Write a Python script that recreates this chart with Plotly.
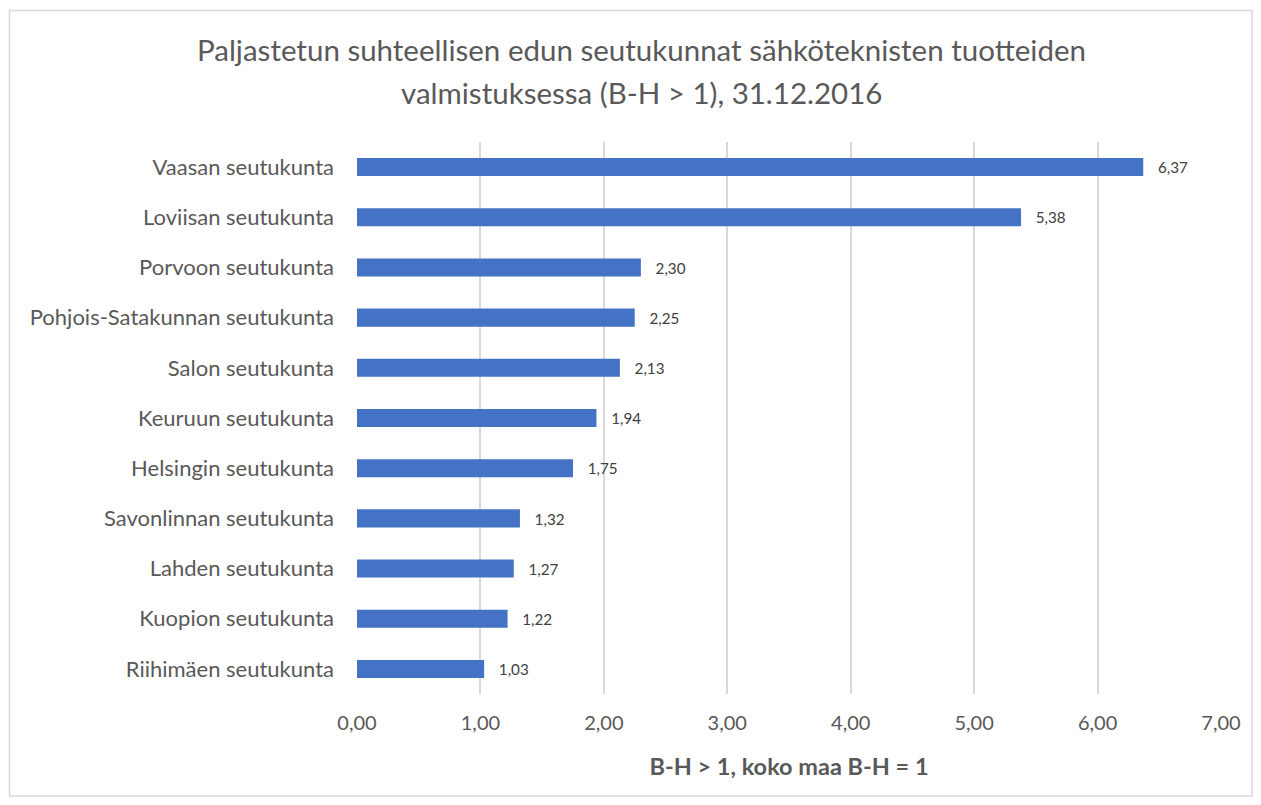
import plotly.graph_objects as go

# Data
regions = [
    "Vaasan seutukunta",
    "Loviisan seutukunta",
    "Porvoon seutukunta",
    "Pohjois-Satakunnan seutukunta",
    "Salon seutukunta",
    "Keuruun seutukunta",
    "Helsingin seutukunta",
    "Savonlinnan seutukunta",
    "Lahden seutukunta",
    "Kuopion seutukunta",
    "Riihimäen seutukunta",
]
values = [6.37, 5.38, 2.30, 2.25, 2.13, 1.94, 1.75, 1.32, 1.27, 1.22, 1.03]
x_ticks = [0, 1, 2, 3, 4, 5, 6, 7]

title_lines = [
    "Paljastetun suhteellisen edun seutukunnat sähköteknisten tuotteiden",
    "valmistuksessa (B-H > 1), 31.12.2016",
]
x_title = "B-H > 1, koko maa B-H = 1"

FONT = "Lato"
GRAY = "#595959"

# page body has an 8px margin, so the figure is placed at (8, 8)
OFF = 8
L, R, T, B = 357 - OFF, 1221 - OFF, 142 - OFF, 694 - OFF
W, H = 1261 - 2 * OFF, 805 - 2 * OFF
PW, PH = R - L, B - T


def px(x):
    return (x - OFF - L) / PW


def py(y):
    return (B - (y - OFF)) / PH


fig = go.Figure()

fig.add_trace(
    go.Bar(
        x=values,
        y=regions,
        orientation="h",
        marker=dict(color="#4472C4", line=dict(width=0)),
        width=0.36,
        texttemplate="   %{x:.2f}",
        textposition="outside",
        textfont=dict(family=FONT, size=16, color="#404040"),
        cliponaxis=False,
        showlegend=False,
    )
)

# Title as two annotations (Excel-like line spacing)
for i, line in enumerate(title_lines):
    fig.add_annotation(
        text=line,
        xref="paper", yref="paper",
        x=px(641), y=py(50 + 42 * i),
        xanchor="center", yanchor="middle",
        showarrow=False,
        font=dict(family=FONT, size=29.5, color=GRAY),
    )

# outer chart border
fig.add_shape(
    type="rect", xref="paper", yref="paper",
    x0=px(9.5), x1=px(1252),
    y0=py(796), y1=py(10.5),
    line=dict(color="#d9d9d9", width=1.5),
    fillcolor="rgba(0,0,0,0)",
)

fig.update_layout(
    width=W,
    height=H,
    margin=dict(l=L, r=W - R, t=T, b=H - B),
    paper_bgcolor="white",
    plot_bgcolor="white",
    separators=", ",
)

fig.update_xaxes(
    range=[0, 7],
    tickvals=x_ticks,
    tickformat=".2f",
    showgrid=True,
    gridcolor="#d9d9d9",
    gridwidth=1.5,
    zeroline=False,
    showline=False,
    ticks="",
    ticklabelstandoff=15,
    tickfont=dict(family=FONT, size=20, color=GRAY),
    title=dict(text="<b>" + x_title + "</b>", standoff=25,
               font=dict(family=FONT, size=23.5, color=GRAY)),
)

fig.update_yaxes(
    autorange="reversed",
    showgrid=False,
    showline=False,
    ticks="",
    ticklabelstandoff=22,
    tickfont=dict(family=FONT, size=22, color=GRAY),
)

fig.write_html("out.html")
